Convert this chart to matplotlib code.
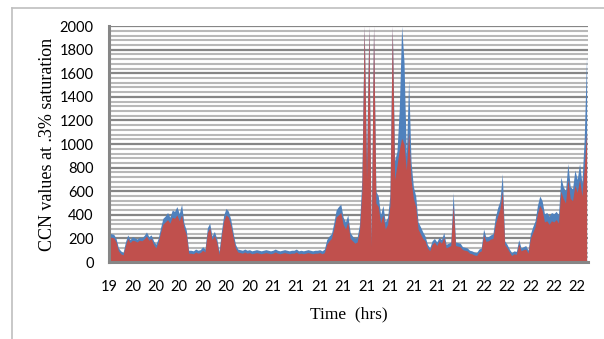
import numpy as np
import matplotlib.pyplot as plt
from matplotlib.lines import Line2D

# CCN counts, one value per sample along the time axis
ccn_total = [
    245, 240, 235, 200, 120, 95, 80, 170, 230, 190,
    215, 205, 195, 210, 205, 225, 255, 215, 230, 180,
    150, 200, 290, 370, 390, 420, 380, 440, 430, 470,
    410, 490, 330, 270, 100, 100, 95, 110, 100, 105,
    130, 110, 290, 330, 220, 260, 200, 90, 260, 400,
    455, 430, 360, 250, 150, 110, 105, 100, 110, 100,
    105, 95, 100, 105, 100, 95, 100, 105, 100,
    95, 100, 110, 100, 95, 100, 105, 100, 95, 100, 100,
    110, 95, 100, 95, 100, 105, 100, 95, 100, 100,
    105, 95, 110, 190, 220, 240, 330, 440, 470, 490,
    380, 340, 400, 250, 220, 200, 210, 320, 700, 2000,
    850, 2000, 170, 2000, 600, 560, 400, 480, 340, 380,
    570, 2000, 860, 940, 1300, 2000, 1700, 900, 1550, 850,
    640, 560, 340, 300, 256,
    220, 150, 120, 180, 200,
    170, 210, 190, 250, 150, 160, 170, 590, 170, 165,
    160, 130, 125, 120, 100, 95, 85, 80, 110, 120,
    280, 210, 215, 230, 240, 380, 460, 520, 750, 180,
    150, 110, 80, 95, 90, 190, 120, 130, 140, 100,
    240, 300, 350, 480, 560, 520, 410, 420, 390, 420,
    410, 430, 400, 720, 640, 600, 835, 640, 620, 780,
    700, 835, 670, 1050, 1750,
]

ccn_sat = [
    215, 210, 205, 170, 95, 70, 60, 140, 200, 165,
    185, 180, 170, 185, 180, 195, 220, 185, 200, 150,
    120, 170, 250, 320, 340, 360, 330, 380, 370, 400,
    350, 400, 290, 230, 75, 75, 70, 85, 75, 80,
    100, 85, 250, 290, 190, 225, 170, 65, 220, 350,
    400, 380, 310, 210, 120, 85, 80, 75, 85, 75,
    80, 70, 75, 80, 75, 70, 75, 80, 75,
    70, 75, 85, 75, 70, 75, 80, 75, 70, 75, 75,
    85, 70, 75, 70, 75, 80, 75, 70, 75, 75,
    80, 70, 80, 150, 180, 200, 280, 380, 400, 420,
    320, 280, 340, 200, 180, 160, 170, 270, 600, 2000,
    700, 2000, 130, 2000, 500, 470, 330, 400, 280, 320,
    480, 2000, 700, 820, 950, 1050, 1000, 780, 1100, 700,
    540, 470, 280, 240, 200,
    180, 120, 95, 150, 170,
    140, 180, 160, 210, 120, 130, 140, 480, 140, 135,
    130, 105, 100, 95, 75, 70, 60, 55, 85, 95,
    230, 175, 180, 195, 200, 320, 390, 450, 600, 150,
    120, 85, 55, 70, 65, 155, 95, 105, 110, 75,
    200, 250, 300, 410, 480, 440, 340, 350, 320, 350,
    340, 360, 330, 600, 540, 500, 700, 540, 520, 650,
    590, 700, 560, 800, 1100,
]

hour_labels = ["19", "20", "20", "20", "20", "20", "20",
               "21", "21", "21", "21", "21", "21", "21", "21", "21",
               "22", "22", "22", "22", "22"]

x = np.arange(len(ccn_total))

fig = plt.figure(figsize=(6.04, 3.39), dpi=100)
ax = fig.add_axes([0.1805, 0.227, 0.793, 0.696])

ax.fill_between(x, ccn_total, color="#4F81BD", lw=0)
ax.fill_between(x, ccn_sat, color="#C0504D", lw=0)

ax.set_ylim(0, 2000)
ax.set_xlim(0, 204.6)
ax.set_yticks(range(0, 2001, 200))
ax.set_yticks(range(0, 2001, 40), minor=True)
ax.set_xticks(range(0, 201, 10))
ax.set_xticklabels(hour_labels)

ax.grid(axis="y", which="major", color="#868686", lw=1.6)
ax.grid(axis="y", which="minor", color="#b8b8b8", lw=1.5)
ax.set_axisbelow(True)

for s in ["top", "right"]:
    ax.spines[s].set_visible(False)
for s in ["left", "bottom"]:
    ax.spines[s].set_color("#868686")
    ax.spines[s].set_linewidth(2.2)

ax.tick_params(which="both", length=0)
ax.tick_params(axis="y", pad=11, labelsize=10.5)
ax.tick_params(axis="x", pad=13, labelsize=10.5)
for lab in ax.get_xticklabels() + ax.get_yticklabels():
    lab.set_family("Lato")

ax.set_ylabel("CCN values at .3% saturation", family="Liberation Serif",
              fontsize=13, labelpad=3)
ax.set_xlabel("Time  (hrs)", family="Liberation Serif", fontsize=12.5,
              labelpad=9)

# chart border
fig.add_artist(Line2D([12 / 604, 1], [1 - 8 / 339, 1 - 8 / 339],
                      color="#bfbfbf", lw=1.2, transform=fig.transFigure))
fig.add_artist(Line2D([12 / 604, 12 / 604], [0, 1 - 8 / 339],
                      color="#bfbfbf", lw=1.2, transform=fig.transFigure))

plt.savefig("out.png", dpi=100)
